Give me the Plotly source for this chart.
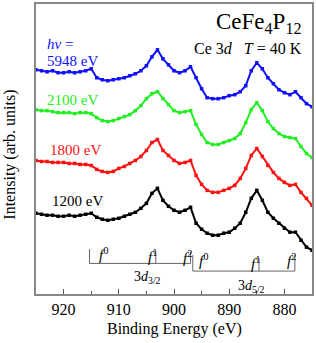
import plotly.graph_objects as go

# Binding energy grid (eV), read every 1 eV from 925 to 875
energy = [925 - i for i in range(51)]

# Intensities (arb. units, offset spectra)
i_5948 = [225, 224, 223, 224, 222, 222, 223, 222, 223, 224,
          226, 217, 215, 214, 215, 216, 217, 219, 221, 224,
          229, 238, 245, 236, 230, 224, 222, 224, 228, 217,
          206, 197, 196, 196, 197, 199, 200, 203, 209, 224,
          232, 226, 217, 211, 205, 202, 200, 203, 197, 191,
          188]
i_2100 = [185, 184, 184, 183, 182, 182, 182, 181, 182, 182,
          181, 177, 174, 173, 174, 176, 178, 180, 184, 189,
          196, 201, 203, 196, 190, 184, 182, 183, 184, 170,
          160, 152, 150, 150, 152, 154, 156, 161, 172, 185,
          192, 184, 173, 166, 161, 158, 157, 156, 148, 141,
          137]
i_1800 = [134, 133, 133, 132, 132, 132, 131, 131, 130, 130,
          129, 125, 123, 122, 123, 126, 128, 131, 134, 138,
          144, 152, 155, 144, 139, 134, 131, 132, 134, 119,
          110, 104, 102, 102, 104, 106, 109, 116, 126, 139,
          146, 138, 129, 122, 116, 112, 109, 110, 102, 96,
          89]
i_1200 = [81, 80, 79, 79, 78, 78, 79, 78, 79, 80,
          81, 77, 75, 74, 75, 76, 78, 80, 82, 86,
          91, 101, 106, 94, 88, 84, 82, 84, 87, 71,
          65, 61, 59, 59, 61, 62, 66, 71, 82, 96,
          104, 94, 82, 76, 71, 66, 62, 62, 54, 47,
          44]

series_names = ["5948 eV", "2100 eV", "1800 eV", "1200 eV"]
series_colors = ["#1010ff", "#22ee22", "#ff1010", "#000000"]
series_values = [i_5948, i_2100, i_1800, i_1200]

# Final-state markers (eV)
f_labels = ["0", "1", "2"]
peaks_32 = [915.3, 903.3, 897.0]
peaks_52 = [896.6, 884.6, 878.1]

FONT = "Liberation Serif"

fig = go.Figure()
for name, col, vals in zip(series_names, series_colors, series_values):
    fig.add_trace(go.Scatter(
        x=energy, y=vals, mode="lines+markers", name=name,
        line=dict(color=col, width=2),
        marker=dict(color=col, size=3.5, symbol="square"),
        showlegend=False,
    ))

shapes = []
annotations = []
# bracket geometry (intensity units)
br = [
    (peaks_32, 30.7, [45, 43, 42], "3<i>d</i><sub>3/2</sub>", 17),
    (peaks_52, 23.0, [39, 36, 39], "3<i>d</i><sub>5/2</sub>", 8),
]
label_dx = [[-2.6, 0.6, 0.6], [-2.0, 0.6, 0.6]]
for k, (pk, ybar, ytops, lab, ylab) in enumerate(br):
    shapes.append(dict(type="line", x0=pk[0], x1=pk[-1], y0=ybar, y1=ybar,
                       line=dict(color="#666666", width=1)))
    for j, (p, yt) in enumerate(zip(pk, ytops)):
        shapes.append(dict(type="line", x0=p, x1=p, y0=ybar, y1=yt,
                           line=dict(color="#666666", width=1)))
        annotations.append(dict(
            x=p + label_dx[k][j], y=yt - 5, xref="x", yref="y",
            text="<i>f</i><sup>" + f_labels[j] + "</sup>", showarrow=False,
            font=dict(family=FONT, size=15, color="black"),
        ))
    annotations.append(dict(
        x=(pk[1] + (pk[0] + pk[-1]) / 2) / 2, y=ylab, xref="x", yref="y",
        text=lab, showarrow=False,
        font=dict(family=FONT, size=14, color="black"),
    ))

# curve labels
lab_pos = [(45, 60), (45, 99), (48, 150), (50, 201)]
for (px, py), name, col in zip(lab_pos, series_names, series_colors):
    annotations.append(dict(
        x=(px - 36) / 278, y=(294 - py) / 291, xref="paper", yref="paper",
        xanchor="left", yanchor="middle", text=name, showarrow=False,
        font=dict(family=FONT, size=15, color=col),
    ))
annotations.append(dict(
    x=(45 - 36) / 278, y=(294 - 43) / 291, xref="paper", yref="paper",
    xanchor="left", yanchor="middle", text="<i>hν</i> =", showarrow=False,
    font=dict(family=FONT, size=15, color=series_colors[0]),
))
# titles
annotations.append(dict(
    x=(306 - 36) / 278, y=(294 - 22) / 291, xref="paper", yref="paper",
    xanchor="right", yanchor="middle", text="CeFe<sub>4</sub>P<sub>12</sub>",
    showarrow=False, font=dict(family=FONT, size=23, color="black"),
))
annotations.append(dict(
    x=(306 - 36) / 278, y=(294 - 48) / 291, xref="paper", yref="paper",
    xanchor="right", yanchor="middle",
    text="Ce 3<i>d</i>   <i>T</i> = 40 K",
    showarrow=False, font=dict(family=FONT, size=16, color="black"),
))
annotations.append(dict(
    x=(10 - 36) / 278, y=(294 - 154) / 291, xref="paper", yref="paper",
    xanchor="center", yanchor="middle", textangle=-90,
    text="Intensity (arb. units)", showarrow=False,
    font=dict(family=FONT, size=16, color="black"),
))
annotations.append(dict(
    x=(176 - 36) / 278, y=(294 - 329) / 291, xref="paper", yref="paper",
    xanchor="center", yanchor="middle",
    text="Binding Energy (eV)", showarrow=False,
    font=dict(family=FONT, size=16, color="black"),
))

fig.update_layout(
    width=316, height=343,
    margin=dict(l=36, r=2, t=3, b=49),
    paper_bgcolor="white", plot_bgcolor="white",
    shapes=shapes, annotations=annotations,
    font=dict(family=FONT, size=16, color="black"),
)
fig.update_xaxes(
    range=[925, 875], autorange=False, dtick=10, tick0=880,
    ticks="inside", ticklen=5, tickwidth=1, tickcolor="#555555",
    minor=dict(ticks="inside", ticklen=3, dtick=5, tick0=875, tickcolor="#555555"),
    showline=True, linecolor="#888888", linewidth=1.5, mirror=True,
    showgrid=False, zeroline=False,
    tickfont=dict(family=FONT, size=16, color="black"),
)
fig.update_yaxes(
    range=[0, 291], autorange=False, showticklabels=False, ticks="",
    showline=True, linecolor="#888888", linewidth=1.5, mirror=True,
    showgrid=False, zeroline=False,
)
fig.write_html(
    "out.html",
    config=dict(displayModeBar=False),
    post_script="document.body.style.margin='0';document.body.style.overflow='hidden';",
)
